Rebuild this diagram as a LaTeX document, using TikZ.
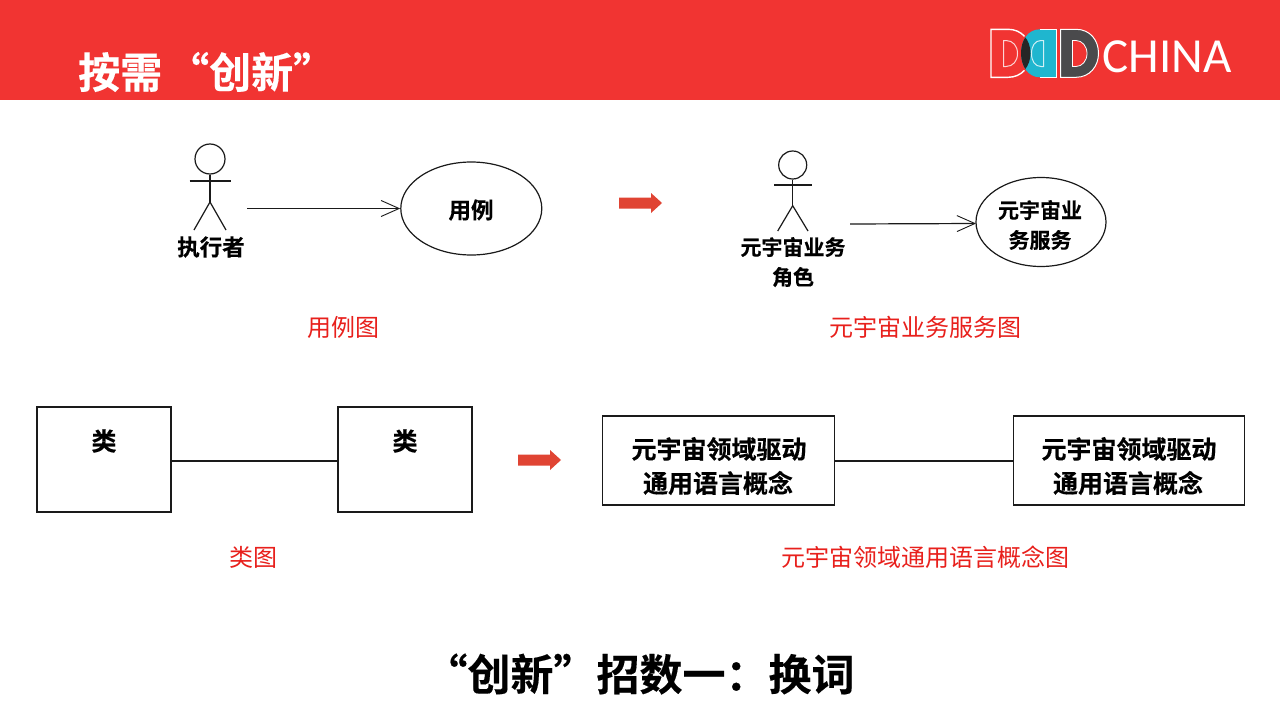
\documentclass[tikz,border=0pt]{standalone}
\usepackage{fontspec}
\setmainfont{Noto Sans CJK SC}[Script=CJK,Language=Chinese Simplified,BoldFont={Noto Sans CJK SC Bold},BoldFeatures={FakeBold=0.35}]
\newfontfamily\logofont{Carlito}
\usetikzlibrary{arrows.meta,shapes.geometric}
\definecolor{banner}{HTML}{F13432}
\definecolor{tealD}{HTML}{1FB6CF}
\definecolor{grayD}{HTML}{4A4A4C}
\definecolor{redtxt}{HTML}{E8201C}
\definecolor{blockarrow}{HTML}{E04433}
\definecolor{ink}{HTML}{1A1A1A}
\newcommand{\fsz}[1]{\fontsize{#1}{#1}\selectfont}
\tikzset{
  x=1pt,y=-1pt,
  stroke/.style={draw=ink,line width=1.2pt},
  openarrow/.style={stroke,-{Straight Barb[length=18pt,width=16pt,line width=0.9pt]}},
  umlbox/.style={stroke,minimum width=134pt,minimum height=105pt,inner sep=0pt},
  conceptbox/.style={stroke,minimum width=231.5pt,minimum height=89pt,inner sep=0pt},
  lbl/.style={font=\fsz{22.5}\bfseries,inner sep=0pt},
  conceptlbl/.style={font=\fsz{25}\bfseries,inner sep=0pt},
  captionlbl/.style={font=\fsz{24},text=redtxt,inner sep=0pt},
  usecase/.style={stroke,ellipse,inner sep=0pt},
  bigarrow/.style={fill=blockarrow,draw=none},
  actorhead/.style={stroke,circle,inner sep=0pt},
  logoline/.style={draw=white,line width=1.4pt},
}
\begin{document}
\begin{tikzpicture}
\useasboundingbox (0,0) rectangle (1280,720);
\fill[white] (0,0) rectangle (1280,720);
\fill[banner] (0,0) rectangle (1280,100);
\node[anchor=west,inner sep=0pt,text=white,font=\fsz{42}\bfseries] (title) at (78,72) {按需\hspace{5pt}“创新”};

% logo
\fill[tealD] (1056.7,29.3) -- (1040,29.3) .. controls (1028,29.3) and (1021,40) .. (1021,53.3) .. controls (1021,66) and (1028,77.3) .. (1040,77.3) -- (1056.7,77.3) -- cycle;
\begin{scope}
  \clip (1056.7,29.3) -- (1040,29.3) .. controls (1028,29.3) and (1021,40) .. (1021,53.3) .. controls (1021,66) and (1028,77.3) .. (1040,77.3) -- (1056.7,77.3) -- cycle;
  \fill[black!85] (991,29.3) -- (1008,29.3) .. controls (1022,29.3) and (1030.5,40) .. (1030.5,53.3) .. controls (1030.5,66) and (1022,77.3) .. (1008,77.3) -- (991,77.3) -- cycle;
\end{scope}
\draw[logoline] (1024.5,36.3) .. controls (1020.6,32) and (1015,29.3) .. (1008,29.3) -- (991,29.3) -- (991,77.3) -- (1008,77.3) .. controls (1015,77.3) and (1020.6,74.6) .. (1024.5,70.3);
\draw[logoline] (1040,29.3) -- (1056.7,29.3) -- (1056.7,77.3) -- (1040,77.3);
\draw[draw=white!80!banner,line width=1pt] (1003.5,40.5) -- (1006,40.5) .. controls (1013,40.5) and (1017.5,46) .. (1017.5,53.5) .. controls (1017.5,61) and (1013,66.5) .. (1006,66.5) -- (1003.5,66.5) -- cycle;
\draw[draw=white!80!tealD,line width=1pt] (1043.5,40.5) -- (1041,40.5) .. controls (1035,40.5) and (1031.5,46) .. (1031.5,53.5) .. controls (1031.5,61) and (1035,66.5) .. (1041,66.5) -- (1043.5,66.5) -- cycle;
\fill[grayD,even odd rule] (1060.7,29.3) -- (1076,29.3) .. controls (1090,29.3) and (1098.5,40) .. (1098.5,53.3) .. controls (1098.5,66) and (1090,77.3) .. (1076,77.3) -- (1060.7,77.3) -- cycle
  (1072.5,40.5) -- (1076,40.5) .. controls (1082,40.5) and (1087,46) .. (1087,53.5) .. controls (1087,61) and (1082,66.5) .. (1076,66.5) -- (1072.5,66.5) -- cycle;
\draw[logoline,line width=1pt] (1060.7,29.3) -- (1076,29.3) .. controls (1090,29.3) and (1098.5,40) .. (1098.5,53.3) .. controls (1098.5,66) and (1090,77.3) .. (1076,77.3) -- (1060.7,77.3) -- cycle;
\draw[logoline,line width=0.8pt] (1072.5,40.5) -- (1076,40.5) .. controls (1082,40.5) and (1087,46) .. (1087,53.5) .. controls (1087,61) and (1082,66.5) .. (1076,66.5) -- (1072.5,66.5) -- cycle;
\node[anchor=center,inner sep=0pt,text=white,font=\logofont\fsz{49}] (china) at (1167,57) {CHINA};

% actor 1
\node[actorhead,minimum size=30pt] (head1) at (210,159) {};
\coordinate (hip1) at (210,202);
\coordinate (armL1) at (189.5,181);
\coordinate (armR1) at (230.5,181);
\coordinate (footL1) at (194,230);
\coordinate (footR1) at (226,230);
\draw[stroke] (head1) -- (hip1);
\draw[stroke] (armL1) -- (armR1);
\draw[stroke] (footL1) -- (hip1) -- (footR1);
\node[lbl] (actor1) at (211,247) {执行者};
\node[usecase,minimum width=141pt,minimum height=93pt] (uc1) at (471.3,208.5) {};
\node[lbl] (uc1text) at (471,210) {用例};
\coordinate (from1) at (247,208.5);
\draw[openarrow] (from1) -- (uc1);

% actor 2
\node[actorhead,minimum size=28pt] (head2) at (792.7,165) {};
\coordinate (hip2) at (792.7,205.7);
\coordinate (armL2) at (774,185);
\coordinate (armR2) at (812,185);
\coordinate (footL2) at (777.7,231);
\coordinate (footR2) at (808,231);
\draw[stroke] (head2) -- (hip2);
\draw[stroke] (armL2) -- (armR2);
\draw[stroke] (footL2) -- (hip2) -- (footR2);
\node[font=\fsz{21}\bfseries,inner sep=0pt] (actor2a) at (793,247) {元宇宙业务};
\node[font=\fsz{21}\bfseries,inner sep=0pt] (actor2b) at (793,277) {角色};
\node[usecase,minimum width=130pt,minimum height=89pt] (uc2) at (1041,222) {};
\node[font=\fsz{21}\bfseries,inner sep=0pt] (uc2a) at (1040,210) {元宇宙业};
\node[font=\fsz{21}\bfseries,inner sep=0pt] (uc2b) at (1040,240) {务服务};
\coordinate (from2) at (850,224);
\coordinate (to2) at (976,223.5);
\draw[openarrow] (from2) -- (to2);

% block arrows
\fill[bigarrow] (619,197.5) -- (651,197.5) -- (651,193) -- (662,203) -- (651,213) -- (651,208.5) -- (619,208.5) -- cycle;
\fill[bigarrow] (518,454.5) -- (550,454.5) -- (550,450) -- (561,460) -- (550,470) -- (550,465.5) -- (518,465.5) -- cycle;

% captions top
\node[captionlbl] (cap1) at (343,327) {用例图};
\node[captionlbl] (cap2) at (925,327) {元宇宙业务服务图};

% class diagram
\node[umlbox] (classA) at (104,459.5) {};
\node[umlbox] (classB) at (405,459.5) {};
\node[lbl,font=\fsz{25}\bfseries] (classAt) at (104,441) {类};
\node[lbl,font=\fsz{25}\bfseries] (classBt) at (405,441) {类};
\draw[stroke] (classA.east |- 0,461) -- (classB.west |- 0,461);

% concept diagram
\node[conceptbox] (conA) at (718.5,460.5) {};
\node[conceptbox] (conB) at (1129,460.5) {};
\node[conceptlbl] (conA1) at (719,449) {元宇宙领域驱动};
\node[conceptlbl] (conA2) at (718,483) {通用语言概念};
\node[conceptlbl] (conB1) at (1129,449) {元宇宙领域驱动};
\node[conceptlbl] (conB2) at (1128,483) {通用语言概念};
\draw[stroke] (conA.east |- 0,461) -- (conB.west |- 0,461);

% captions bottom
\node[captionlbl] (cap3) at (253,557) {类图};
\node[captionlbl] (cap4) at (925,557) {元宇宙领域通用语言概念图};

% footer
\node[inner sep=0pt,font=\fsz{43}\bfseries] (footer) at (639.5,674) {“创新”招数一：换词};
\end{tikzpicture}
\end{document}
